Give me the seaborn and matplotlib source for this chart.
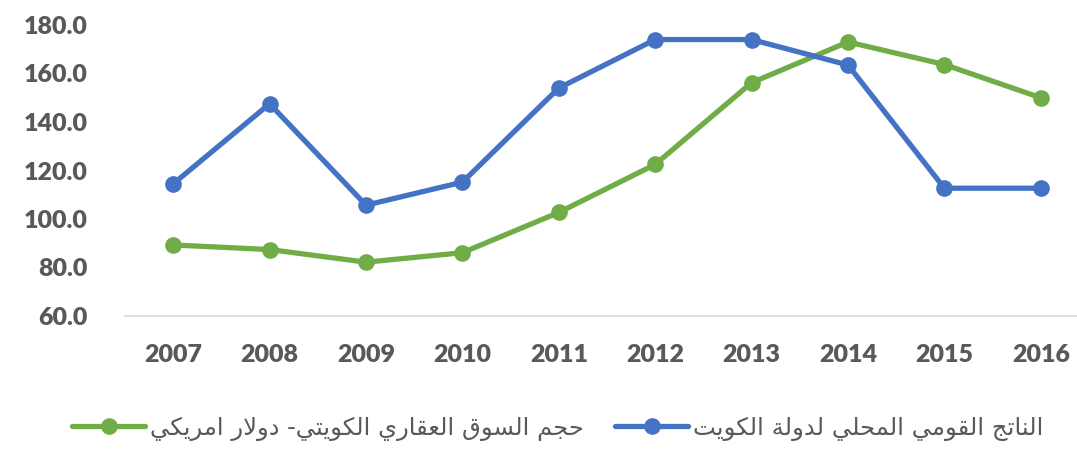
import pandas as pd
import matplotlib
matplotlib.use('Agg')
import matplotlib.pyplot as plt
import seaborn as sns

# ── data ─────────────────────────────────────────────────────────────────────
years = [2007, 2008, 2009, 2010, 2011, 2012, 2013, 2014, 2015, 2016]
gdp_kuwait = [114.5, 147.5, 105.7, 115.2, 154.0, 174.0, 174.0, 163.5, 112.7, 112.7]
real_estate = [89.3, 87.4, 82.2, 86.1, 102.7, 122.5, 156.2, 173.0, 163.7, 150.0]

label_gdp = "الناتج القومي المحلي لدولة الكويت"
label_re = "حجم السوق العقاري الكويتي- دولار امريكي"

y_ticks = [60, 80, 100, 120, 140, 160, 180]

BLUE = '#4472C4'
GREEN = '#70AD47'
GREY = '#595959'

# ── minimal arabic shaping (matplotlib has no bidi / joining) ──────────────
FORMS = {
    'ا': (0xFE8D, 0xFE8E, None, None),
    'ة': (0xFE93, 0xFE94, None, None),
    'ت': (0xFE95, 0xFE96, 0xFE97, 0xFE98),
    'ج': (0xFE9D, 0xFE9E, 0xFE9F, 0xFEA0),
    'ح': (0xFEA1, 0xFEA2, 0xFEA3, 0xFEA4),
    'د': (0xFEA9, 0xFEAA, None, None),
    'ر': (0xFEAD, 0xFEAE, None, None),
    'س': (0xFEB1, 0xFEB2, 0xFEB3, 0xFEB4),
    'ع': (0xFEC9, 0xFECA, 0xFECB, 0xFECC),
    'ق': (0xFED5, 0xFED6, 0xFED7, 0xFED8),
    'ك': (0xFED9, 0xFEDA, 0xFEDB, 0xFEDC),
    'ل': (0xFEDD, 0xFEDE, 0xFEDF, 0xFEE0),
    'م': (0xFEE1, 0xFEE2, 0xFEE3, 0xFEE4),
    'ن': (0xFEE5, 0xFEE6, 0xFEE7, 0xFEE8),
    'و': (0xFEED, 0xFEEE, None, None),
    'ي': (0xFEF1, 0xFEF2, 0xFEF3, 0xFEF4),
}


def shape(text):
    out = []
    prev_joins = False
    i = 0
    while i < len(text):
        c = text[i]
        if c not in FORMS:
            out.append(c)
            prev_joins = False
            i += 1
            continue
        if c == 'ل' and i + 1 < len(text) and text[i + 1] == 'ا':
            out.append(chr(0xFEFC if prev_joins else 0xFEFB))
            prev_joins = False
            i += 2
            continue
        iso, fin, ini, med = FORMS[c]
        nxt = text[i + 1] if i + 1 < len(text) else None
        can_fwd = ini is not None
        next_joins = can_fwd and nxt in FORMS
        if prev_joins and next_joins:
            g = med
        elif prev_joins:
            g = fin
        elif next_joins:
            g = ini
        else:
            g = iso
        out.append(chr(g))
        prev_joins = can_fwd
        i += 1
    return ''.join(reversed(out))


df = pd.DataFrame({
    'year': years * 2,
    'value': real_estate + gdp_kuwait,
    'series': [label_re] * len(years) + [label_gdp] * len(years),
})

# ── plot ─────────────────────────────────────────────────────────────────────
sns.set_style('white')
plt.rcParams['font.family'] = ['Lato', 'DejaVu Sans']

fig = plt.figure(figsize=(10.77, 4.53), dpi=100)
ax = fig.add_axes([125 / 1077, 137 / 453, 964 / 1077, 291 / 453])

sns.lineplot(data=df, x='year', y='value', hue='series',
             hue_order=[label_re, label_gdp],
             palette={label_re: GREEN, label_gdp: BLUE},
             marker='o', markersize=12, markeredgewidth=0,
             linewidth=3.8, ax=ax, legend=False)

ax.set_xlim(2006.5, 2016.5)
ax.set_ylim(60, 180)
ax.set_yticks(y_ticks)
ax.set_yticklabels([f"{v:.1f}" for v in y_ticks])
ax.set_xticks(years)
ax.set_xticklabels([str(y) for y in years])
ax.set_xlabel('')
ax.set_ylabel('')

for s in ['top', 'right', 'left']:
    ax.spines[s].set_visible(False)
ax.spines['bottom'].set_color('#D9D9D9')
ax.spines['bottom'].set_linewidth(1.2)
ax.spines['bottom'].set_clip_on(False)

ax.tick_params(axis='y', length=0, pad=27, labelsize=18, labelcolor=GREY)
ax.tick_params(axis='x', length=0, pad=20, labelsize=18, labelcolor=GREY)
for lab in ax.get_xticklabels() + ax.get_yticklabels():
    lab.set_fontweight('heavy')

handles = [
    plt.Line2D([], [], color=GREEN, lw=3.8, marker='o', markersize=12, markeredgewidth=0),
    plt.Line2D([], [], color=BLUE, lw=3.8, marker='o', markersize=12, markeredgewidth=0),
]
leg = fig.legend(handles, [shape(label_re), shape(label_gdp)],
                 loc='center', bbox_to_anchor=(0.518, 0.055), ncol=2,
                 frameon=False, handlelength=3.0, handletextpad=0.2,
                 columnspacing=1.3, prop={'family': 'DejaVu Sans', 'size': 17.5})
for t in leg.get_texts():
    t.set_color(GREY)

fig.savefig('out.png', dpi=100)
